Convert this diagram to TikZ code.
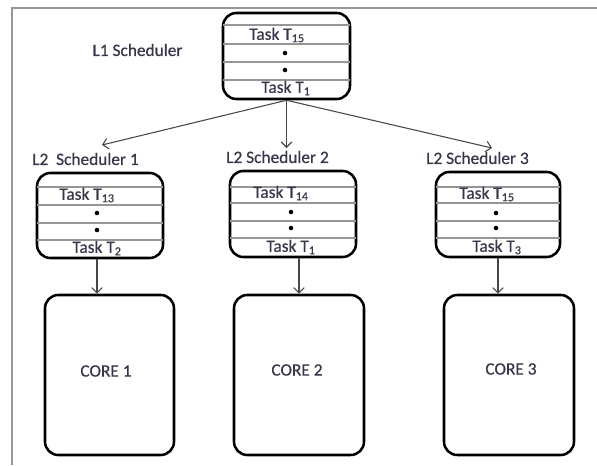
\documentclass[tikz,border=0pt]{standalone}
\usepackage{fontspec}
\setmainfont{Carlito}
\newfontfamily\lblfont{Carlito}[FakeBold=0.5,AutoFakeBold=0.5]
\usetikzlibrary{arrows.meta}
\definecolor{txt}{RGB}{55,55,75}
\definecolor{rulegray}{RGB}{150,150,150}
\begin{document}
\begin{tikzpicture}[x=0.75pt,y=-0.75pt,
  box/.style={draw=black,line width=1.9pt,rounded corners=10pt,inner sep=0pt},
  rowline/.style={draw=rulegray,line width=1.1pt,shorten <=0.9pt,shorten >=0.9pt},
  lbl/.style={text=txt,font=\lblfont\bfseries\fontsize{13}{15}\selectfont,inner sep=0pt},
  dotn/.style={circle,fill=black,inner sep=0pt,minimum size=3.4pt},
  arr/.style={draw=black!72,line width=0.8pt,-{Straight Barb[length=4pt,width=8pt]}},
  framel/.style={draw=rulegray,line width=1.1pt}]
\useasboundingbox (0,0) rectangle (597,465);
\fill[white] (0,0) rectangle (597,465);
% frame
\coordinate (ftr) at (597,8);
\coordinate (ftl) at (12,8);
\coordinate (fbl) at (12,465);
\draw[framel] (ftr) -- (ftl) -- (fbl);

% L1 scheduler
\node[lbl] (l1lab) at (137.5,50) {L1 Scheduler};
\node[box,minimum width=95.25pt,minimum height=64.5pt] (L1) at (286.5,56) {};
\foreach \yy in {25,44,62,80} \draw[rowline] (L1.west |- 0,\yy) -- (L1.east |- 0,\yy);
\node[lbl] (l1t15) at (277,35) {Task T\textsubscript{15}};
\node[dotn] (l1d1) at (285,53) {};
\node[dotn] (l1d2) at (285,70) {};
\node[lbl] (l1t1) at (286,88) {Task T\textsubscript{1}};

% L2 labels
\node[lbl] (l2alab) at (85.5,159) {L2~~Scheduler 1};
\node[lbl] (l2blab) at (277.5,157) {L2 Scheduler 2};
\node[lbl] (l2clab) at (477.5,158) {L2 Scheduler 3};

% arrow tips from L1
\coordinate (t1) at (102,145);
\coordinate (t2) at (286.5,148);
\coordinate (t3) at (492,148);
\draw[arr] (L1.south) -- (t1);
\draw[arr] (L1.south) -- (t2);
\draw[arr] (L1.south) -- (t3);

% L2 box 1
\node[box,minimum width=94.5pt,minimum height=63.75pt] (l2a) at (100,215.5) {};
\foreach \yy in {187,205,223,240} \draw[rowline] (l2a.west |- 0,\yy) -- (l2a.east |- 0,\yy);
\node[lbl] (at13) at (87,195) {Task T\textsubscript{13}};
\node[dotn] (ad1) at (97,213) {};
\node[dotn] (ad2) at (97,230) {};
\node[lbl] (at2) at (97,248) {Task T\textsubscript{2}};

% L2 box 2
\node[box,minimum width=94.5pt,minimum height=64.5pt] (l2b) at (293,214) {};
\foreach \yy in {187,203,221,238} \draw[rowline] (l2b.west |- 0,\yy) -- (l2b.east |- 0,\yy);
\node[lbl] (bt14) at (281,193) {Task T\textsubscript{14}};
\node[dotn] (bd1) at (291,212) {};
\node[dotn] (bd2) at (291,228) {};
\node[lbl] (bt1) at (291,247) {Task T\textsubscript{1}};

% L2 box 3
\node[box,minimum width=93pt,minimum height=63.75pt] (l2c) at (498,214.5) {};
\foreach \yy in {187,203,221,238} \draw[rowline] (l2c.west |- 0,\yy) -- (l2c.east |- 0,\yy);
\node[lbl] (ct15) at (487,194) {Task T\textsubscript{15}};
\node[dotn] (cd1) at (496,213) {};
\node[dotn] (cd2) at (496,228) {};
\node[lbl] (ct3) at (497,247) {Task T\textsubscript{3}};

% cores
\node[box,minimum width=96.75pt,minimum height=120pt] (c1) at (109.5,375) {};
\node[box,minimum width=97.5pt,minimum height=120pt] (c2) at (299,375) {};
\node[box,minimum width=97.5pt,minimum height=120pt] (c3) at (509,375) {};
\node[lbl] (c1lab) at (106,371) {CORE 1};
\node[lbl] (c2lab) at (297,370) {CORE 2};
\node[lbl] (c3lab) at (511,369) {CORE 3};

% L2 -> cores
\draw[arr] (l2a.south -| 97,0) -- (c1.north -| 97,0);
\draw[arr] (l2b.south -| 299,0) -- (c2.north -| 299,0);
\draw[arr] (l2c.south -| 498,0) -- (c3.north -| 498,0);
\end{tikzpicture}
\end{document}
